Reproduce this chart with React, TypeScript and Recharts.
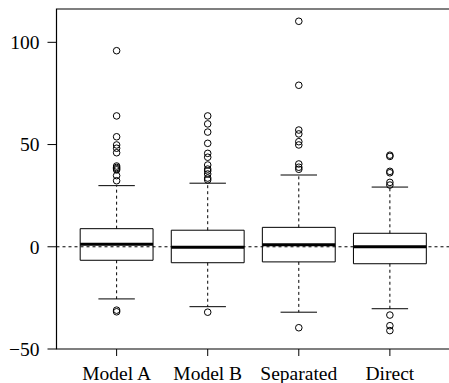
import React from 'react';
import {
  ComposedChart,
  XAxis,
  YAxis,
  Scatter,
  ReferenceArea,
  ReferenceLine,
} from 'recharts';

const categories = ['Model A', 'Model B', 'Separated', 'Direct'];
const q1 = [-6.6, -7.8, -7.4, -8.3];
const medians = [1.2, -0.25, 1.0, 0.05];
const q3 = [8.85, 8.1, 9.5, 6.6];
const lowerWhisker = [-25.5, -29.3, -32.0, -30.3];
const upperWhisker = [29.9, 31.1, 35.1, 29.2];

const outliersModelA = [95.9, 64.0, 53.8, 49.8, 48.2, 46.0, 39.5, 38.8, 38.2, 37.6, 34.8, 32.3, -31.0, -31.8];
const outliersModelB = [64.0, 60.1, 56.1, 50.6, 45.7, 43.8, 40.0, 38.0, 37.1, 35.6, 33.6, 32.7, -32.0];
const outliersSeparated = [110.3, 79.0, 57.1, 55.2, 51.4, 49.8, 40.5, 38.9, 37.9, -39.6];
const outliersDirect = [44.8, 44.2, 36.9, 36.2, 31.5, 30.2, -33.4, -38.6, -41.0];

const yTicks = [-50, 0, 50, 100];
const xTicks = [1, 2, 3, 4];

const outlierPoints = [outliersModelA, outliersModelB, outliersSeparated, outliersDirect].flatMap(
  (vals, i) => vals.map((v) => ({ x: i + 1, y: v })),
);

const INK = '#000';
const tickStyle = { fill: INK, fontSize: '19.5px', fontFamily: 'Liberation Serif, DejaVu Serif, serif' };

const OpenCircle = (props: any) => {
  const { cx, cy } = props;
  if (cx == null || cy == null) return null;
  return <circle cx={cx} cy={cy} r={3.3} fill="none" stroke={INK} strokeWidth={1} />;
};

const XTick = (props: any) => {
  const { x, y, payload } = props;
  return (
    <text x={x} y={y} dy="0.71em" textAnchor="middle" style={tickStyle}>
      {categories[payload.value - 1]}
    </text>
  );
};

const YTick = (props: any) => {
  const { x, y, payload } = props;
  const v = payload.value as number;
  return (
    <text x={x} y={y} dy="0.355em" textAnchor="end" style={tickStyle}>
      {v < 0 ? `\u2212${Math.abs(v)}` : `${v}`}
    </text>
  );
};

export default function App() {
  return (
    <div
      style={{
        position: 'absolute',
        left: 0,
        top: 0,
        width: 449,
        height: 383,
        overflow: 'hidden',
        background: '#fff',
      }}
    >
      <ComposedChart width={450} height={383} margin={{ top: 9, right: 0, bottom: 0, left: 0 }}>
        <XAxis
          type="number"
          dataKey="x"
          domain={[0.34, 4.66]}
          ticks={xTicks}
          allowDataOverflow
          height={34}
          axisLine={false}
          tickLine={{ stroke: INK }}
          tickSize={7}
          tickMargin={10}
          tick={XTick}
          interval={0}
        />
        <YAxis
          type="number"
          dataKey="y"
          domain={[-50, 116.3]}
          ticks={yTicks}
          allowDataOverflow
          width={56.5}
          axisLine={false}
          tickLine={{ stroke: INK }}
          tickSize={9}
          tickMargin={8}
          tick={YTick}
        />
        <ReferenceArea
          x1={0.34}
          x2={4.66}
          y1={-50}
          y2={116.3}
          fill="none"
          stroke={INK}
          strokeWidth={1.2}
          ifOverflow="visible"
        />
        {categories.map((c, i) => {
          const x = i + 1;
          return (
            <React.Fragment key={c}>
              <ReferenceLine
                segment={[{ x, y: q3[i] }, { x, y: upperWhisker[i] }]}
                stroke={INK}
                strokeDasharray="3 3"
              />
              <ReferenceLine
                segment={[{ x, y: q1[i] }, { x, y: lowerWhisker[i] }]}
                stroke={INK}
                strokeDasharray="3 3"
              />
              <ReferenceLine
                segment={[{ x: x - 0.2, y: upperWhisker[i] }, { x: x + 0.2, y: upperWhisker[i] }]}
                stroke={INK}
              />
              <ReferenceLine
                segment={[{ x: x - 0.2, y: lowerWhisker[i] }, { x: x + 0.2, y: lowerWhisker[i] }]}
                stroke={INK}
              />
              <ReferenceArea
                x1={x - 0.4}
                x2={x + 0.4}
                y1={q1[i]}
                y2={q3[i]}
                fill="#fff"
                fillOpacity={1}
                stroke={INK}
                strokeWidth={1}
              />
              <ReferenceLine
                segment={[{ x: x - 0.4, y: medians[i] }, { x: x + 0.4, y: medians[i] }]}
                stroke={INK}
                strokeWidth={3}
              />
            </React.Fragment>
          );
        })}
        <ReferenceLine y={0} stroke={INK} strokeDasharray="3 3" />
        <Scatter data={outlierPoints} shape={<OpenCircle />} isAnimationActive={false} />
      </ComposedChart>
    </div>
  );
}
